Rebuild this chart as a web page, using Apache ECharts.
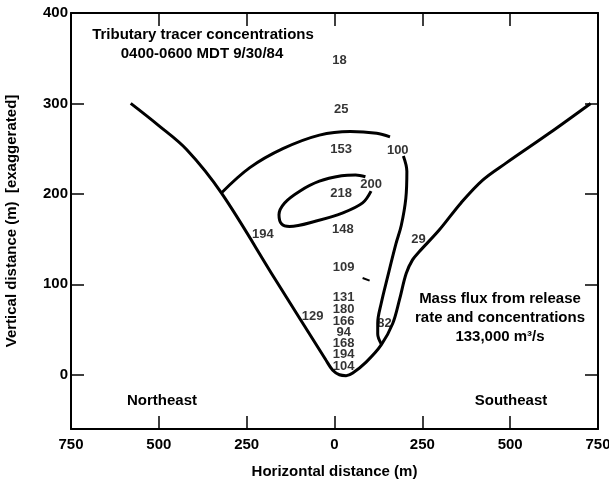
<!DOCTYPE html>
<html>
<head>
<meta charset="utf-8">
<script src="https://cdn.jsdelivr.net/npm/echarts@6/dist/echarts.min.js"></script>
<style>
html,body{margin:0;padding:0;background:#fff;}
#main{width:609px;height:482px;}
</style>
</head>
<body>
<div id="main"></div>
<script>
// valley cross-section (outer profile)
var outerProfile = [[-580,300],[-502,276],[-421,249],[-322,201],[-168,105],[-24,16],[-5,5],[14,0],[33,-1],[52,2],[90,14],[133,33],[166,57],[185,83],[204,112],[222,127],[241,136],[298,160],[360,190],[421,215],[488,234],[611,267],[729,300]];
// contour 100 (split around its label)
var contour100a = [[-322,201],[-241,229],[-147,250],[-43,265],[45,269],[120,267],[158,263]];
var contour100b = [[196,242],[206,225],[203,195],[190,165],[175,145],[151,108],[133,79],[123,57],[123,45],[133,34]];
// contour 200 (open where label sits)
var contour200 = [[104,203],[80,190],[24,179],[-52,170],[-128,164],[-151,167],[-158,177],[-142,190],[-99,203],[-43,214],[20,220],[60,221],[88,219]];
var strayMark = [[80,107],[100,104]];

// concentration values
var concText = ['18','25','153','100','218','200','148','194','109','131','180','166','94','168','194','104','129','82','29'];
var concX = [14,19,19,180,19,104,24,-204,26,26,26,26,26,26,26,26,-62,142,239];
var concY = [348,293,249,248,201,210,161,155,119,86,72,59,47,35,22,9,64,57,150];

var yTicks = [0,100,200,300,400];

var fontB = 'bold 15px "Liberation Sans", Arial, sans-serif';
var labelData = [];
for (var i = 0; i < concText.length; i++) {
    labelData.push({name: concText[i], value: [concX[i], concY[i]]});
}

function curve(d, w) {
    return {
        type: 'line',
        data: d,
        smooth: 0.35,
        symbol: 'none',
        lineStyle: {color: '#000', width: w || 3},
        animation: false,
        z: 2
    };
}

var chart = echarts.init(document.getElementById('main'));
var option = {
    backgroundColor: '#fff',
    animation: false,
    grid: {left: 71, right: 11, top: 13, bottom: 53, containLabel: false, outerBoundsMode: 'none'},
    xAxis: [{
        type: 'value',
        min: -750,
        max: 750,
        interval: 250,
        name: 'Horizontal distance (m)',
        nameLocation: 'middle',
        nameGap: 35,
        nameTextStyle: {color: '#000', fontWeight: 'bold', fontSize: 15, fontFamily: 'Liberation Sans'},
        axisLine: {onZero: false, lineStyle: {color: '#000', width: 2}},
        axisTick: {inside: true, length: 13, lineStyle: {color: '#000', width: 1.5}},
        axisLabel: {
            color: '#000', fontWeight: 'bold', fontSize: 15, fontFamily: 'Liberation Sans', margin: 8,
            showMinLabel: true, showMaxLabel: true,
            formatter: function (v) { return String(Math.abs(v)); }
        },
        splitLine: {show: false}
    }, {
        type: 'value',
        position: 'top',
        min: -750,
        max: 750,
        interval: 250,
        axisLine: {onZero: false, lineStyle: {color: '#000', width: 2}},
        axisTick: {inside: true, length: 13, lineStyle: {color: '#000', width: 1.5}},
        axisLabel: {show: false},
        splitLine: {show: false}
    }],
    yAxis: [{
        type: 'value',
        min: -60,
        max: 400,
        name: 'Vertical distance (m)  [exaggerated]',
        nameLocation: 'middle',
        nameGap: 52,
        nameTextStyle: {color: '#000', fontWeight: 'bold', fontSize: 15, fontFamily: 'Liberation Sans'},
        axisLine: {onZero: false, lineStyle: {color: '#000', width: 2}},
        axisTick: {inside: true, length: 13, customValues: yTicks, lineStyle: {color: '#000', width: 1.5}},
        axisLabel: {
            color: '#000', fontWeight: 'bold', fontSize: 15, fontFamily: 'Liberation Sans', margin: 3,
            customValues: yTicks
        },
        splitLine: {show: false}
    }, {
        type: 'value',
        position: 'right',
        min: -60,
        max: 400,
        axisLine: {onZero: false, lineStyle: {color: '#000', width: 2}},
        axisTick: {inside: true, length: 13, customValues: yTicks, lineStyle: {color: '#000', width: 1.5}},
        axisLabel: {show: false},
        splitLine: {show: false}
    }],
    graphic: [
        {type: 'text', x: 203, y: 35, style: {text: 'Tributary tracer concentrations', font: fontB, fill: '#000', textAlign: 'center', textVerticalAlign: 'middle'}},
        {type: 'text', x: 202, y: 54, style: {text: '0400-0600 MDT 9/30/84', font: fontB, fill: '#000', textAlign: 'center', textVerticalAlign: 'middle'}},
        {type: 'text', x: 500, y: 299, style: {text: 'Mass flux from release', font: fontB, fill: '#000', textAlign: 'center', textVerticalAlign: 'middle'}},
        {type: 'text', x: 500, y: 318, style: {text: 'rate and concentrations', font: fontB, fill: '#000', textAlign: 'center', textVerticalAlign: 'middle'}},
        {type: 'text', x: 500, y: 337, style: {text: '133,000 m\u00b3/s', font: fontB, fill: '#000', textAlign: 'center', textVerticalAlign: 'middle'}},
        {type: 'text', x: 162, y: 401, style: {text: 'Northeast', font: fontB, fill: '#000', textAlign: 'center', textVerticalAlign: 'middle'}},
        {type: 'text', x: 511, y: 401, style: {text: 'Southeast', font: fontB, fill: '#000', textAlign: 'center', textVerticalAlign: 'middle'}}
    ],
    series: [
        curve(outerProfile),
        curve(contour100a),
        curve(contour100b),
        curve(contour200),
        curve(strayMark, 2),
        {
            type: 'scatter',
            data: labelData,
            symbolSize: 1,
            itemStyle: {color: 'rgba(0,0,0,0)'},
            label: {
                show: true,
                position: 'inside',
                formatter: '{b}',
                color: '#000',
                fontWeight: 'bold',
                fontSize: 13,
                fontFamily: 'Liberation Sans'
            },
            z: 3
        }
    ]
};
chart.setOption(option);
</script>
</body>
</html>
